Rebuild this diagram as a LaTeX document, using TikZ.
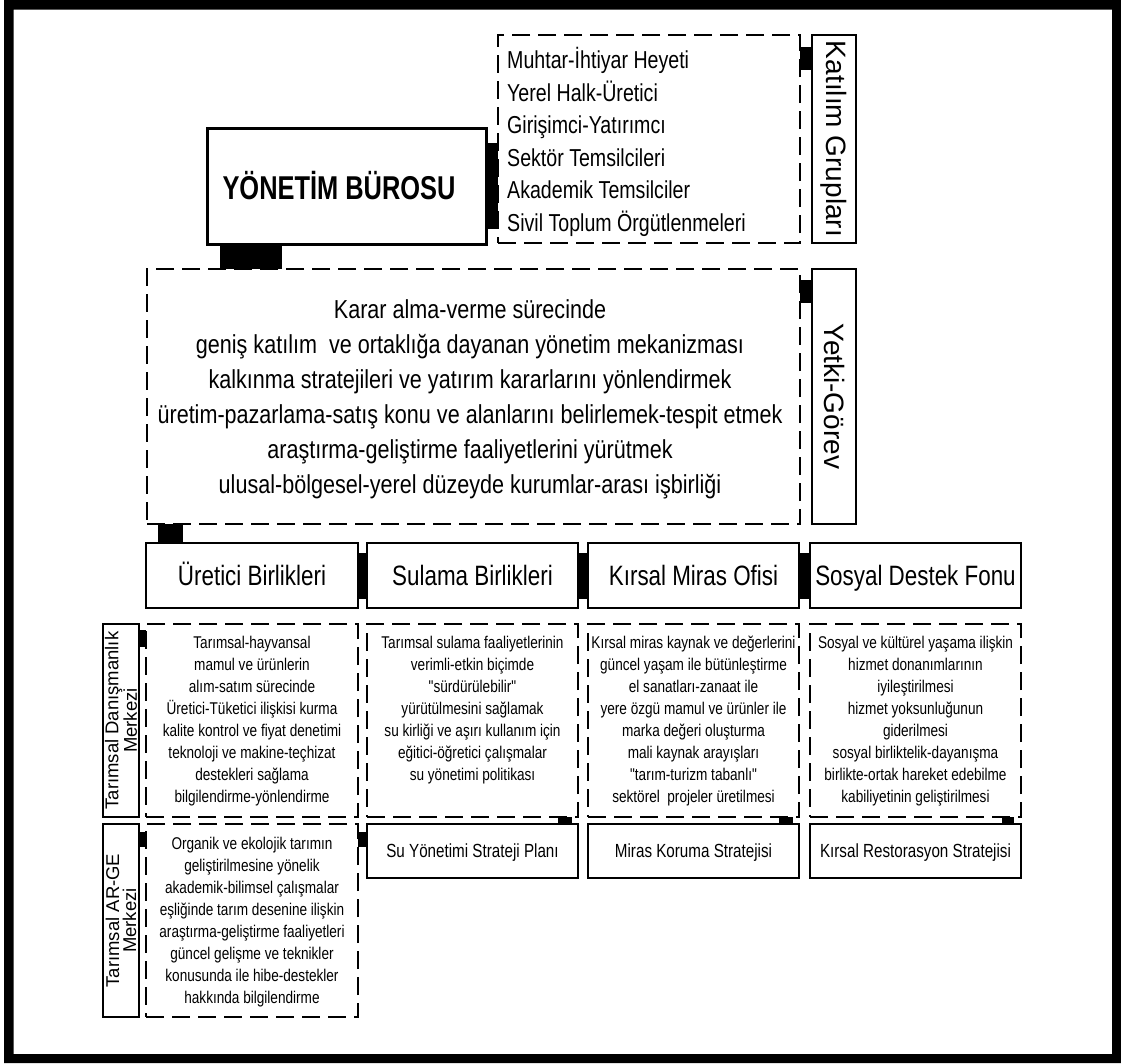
\documentclass[tikz,border=0pt]{standalone}
\usepackage{fontspec}
\setmainfont{Liberation Sans}
\newfontfamily\nar{Liberation Sans}[FakeStretch=0.8]
\newfontfamily\cenf{Liberation Sans}[FakeStretch=0.83]
\newfontfamily\bnar{Liberation Sans}[FakeStretch=0.77]
\newcommand\myfs[2]{\fontsize{#1}{#2}\selectfont}
\begin{document}
\begin{tikzpicture}[x=1pt,y=-1pt,
  box/.style={draw=black, line width=1.6pt, inner sep=0pt, outer sep=0pt, anchor=north west},
  hbox/.style={box, line width=2.6pt},
  dbox/.style={box, line width=2pt, dash pattern=on 18pt off 8pt},
  cn/.style={draw=black, line width=#1},
  small/.style={font=\nar\myfs{17}{22}, align=center, inner sep=0pt, anchor=north},
  head/.style={font=\nar\myfs{28}{28}, inner sep=0pt, anchor=base},
  strat/.style={font=\nar\myfs{19}{19}, inner sep=0pt, anchor=base},
  rot/.style={font=\myfs{28}{28}, rotate=-90, inner sep=0pt},
  lrot/.style={font=\myfs{18.5}{17}, rotate=90, align=center, inner sep=0pt}
]
\useasboundingbox (0,0) rectangle (1121,1063);
\fill[black,even odd rule] (4,0) rectangle (1121,1063) (13.5,9.5) rectangle (1112,1054);

% top part
\node[box, line width=3pt, minimum width=279pt, minimum height=116pt] (yb) at (207,128) {};
\node[font=\bnar\bfseries\myfs{33}{33}, inner sep=0pt, anchor=base] (ybt) at (339,199.3) {YÖNETİM BÜROSU};

\node[dbox, minimum width=302pt, minimum height=208pt] (lst) at (498,35) {};
\foreach \t [count=\i] in {Muhtar-İhtiyar Heyeti, Yerel Halk-Üretici, Girişimci-Yatırımcı, Sektör Temsilcileri, Akademik Temsilciler, Sivil Toplum Örgütlenmeleri}
  \node[anchor=base west, font=\nar\myfs{24.5}{24.5}, inner sep=0pt] (it\i) at (507, 36.3+32.5*\i) {\t};

\node[box, minimum width=44pt, minimum height=208pt] (kat) at (812,35) {};
\node[rot] (katt) at (kat.center) {Katılım Grupları};

% central
\node[dbox, minimum width=653pt, minimum height=255pt] (cen) at (147,269) {};
\node[font=\cenf\myfs{26}{35}, align=center, inner sep=0pt, anchor=north] (cent) at (470,299.5)
 {Karar alma-verme sürecinde\\
  geniş katılım\ \ ve ortaklığa dayanan yönetim mekanizması\\
  kalkınma stratejileri ve yatırım kararlarını yönlendirmek\\
  üretim-pazarlama-satış konu ve alanlarını belirlemek-tespit etmek\\
  araştırma-geliştirme faaliyetlerini yürütmek\\
  ulusal-bölgesel-yerel düzeyde kurumlar-arası işbirliği};

\node[box, minimum width=44pt, minimum height=255pt] (yet) at (812,269) {};
\node[rot] (yett) at (yet.center) {Yetki-Görev};

% row headers
\node[hbox, minimum width=212pt, minimum height=65pt] (ur) at (146,543) {};
\node[head] at (252,585.5) {Üretici Birlikleri};
\node[hbox, minimum width=211pt, minimum height=65pt] (su) at (367,543) {};
\node[head] at (472.5,585.5) {Sulama Birlikleri};
\node[hbox, minimum width=211pt, minimum height=65pt] (kr) at (588,543) {};
\node[head] at (693.5,585.5) {Kırsal Miras Ofisi};
\node[hbox, minimum width=211pt, minimum height=65pt] (so) at (810,543) {};
\node[head] at (915.5,585.5) {Sosyal Destek Fonu};

% dashed description boxes
\node[dbox, minimum width=212pt, minimum height=193pt] (d1) at (146,624) {};
\node[small] (d1t) at (252,636.2) {Tarımsal-hayvansal\\mamul ve ürünlerin\\alım-satım sürecinde\\Üretici-Tüketici ilişkisi kurma\\kalite kontrol ve fiyat denetimi\\teknoloji ve makine-teçhizat\\destekleri sağlama\\bilgilendirme-yönlendirme};
\node[dbox, minimum width=211pt, minimum height=193pt] (d2) at (367,624) {};
\node[small] (d2t) at (472.5,636.2) {Tarımsal sulama faaliyetlerinin\\verimli-etkin biçimde\\"sürdürülebilir"\\yürütülmesini sağlamak\\su kirliği ve aşırı kullanım için\\eğitici-öğretici çalışmalar\\su yönetimi politikası};
\node[dbox, minimum width=211pt, minimum height=193pt] (d3) at (588,624) {};
\node[small] (d3t) at (693.5,636.2) {Kırsal miras kaynak ve değerlerini\\güncel yaşam ile bütünleştirme\\el sanatları-zanaat ile\\yere özgü mamul ve ürünler ile\\marka değeri oluşturma\\mali kaynak arayışları\\"tarım-turizm tabanlı"\\sektörel\ \ projeler üretilmesi};
\node[dbox, minimum width=211pt, minimum height=193pt] (d4) at (810,624) {};
\node[small] (d4t) at (915.5,636.2) {Sosyal ve kültürel yaşama ilişkin\\hizmet donanımlarının\\iyileştirilmesi\\hizmet yoksunluğunun\\giderilmesi\\sosyal birliktelik-dayanışma\\birlikte-ortak hareket edebilme\\kabiliyetinin geliştirilmesi};

\node[dbox, minimum width=212pt, minimum height=193pt] (d5) at (146,824) {};
\node[small] (d5t) at (252,836.7) {Organik ve ekolojik tarımın\\geliştirilmesine yönelik\\akademik-bilimsel çalışmalar\\eşliğinde tarım desenine ilişkin\\araştırma-geliştirme faaliyetleri\\güncel gelişme ve teknikler\\konusunda ile hibe-destekler\\hakkında bilgilendirme};

% left labels
\node[box, minimum width=36pt, minimum height=193pt] (l1) at (103,624) {};
\node[lrot] (l1t) at (l1.center) {Tarımsal Danışmanlık\\Merkezi};
\node[box, minimum width=36pt, minimum height=193pt] (l2) at (103,824) {};
\node[lrot] (l2t) at (l2.center) {Tarımsal AR-GE\\Merkezi};

% strategy boxes
\node[box, minimum width=211pt, minimum height=54pt] (s2) at (367,824) {};
\node[strat] at (472.5,857.8) {Su Yönetimi Strateji Planı};
\node[box, minimum width=211pt, minimum height=54pt] (s3) at (588,824) {};
\node[strat] at (693.5,857.8) {Miras Koruma Stratejisi};
\node[box, minimum width=211pt, minimum height=54pt] (s4) at (810,824) {};
\node[strat] at (915.5,857.8) {Kırsal Restorasyon Stratejisi};

% connectors (black bars)
\draw[cn=86pt] (yb.east) -- (yb.east -| lst.west);
\coordinate (c1) at ([yshift=-23.5pt]lst.north east);
\draw[cn=23pt] (c1) -- (c1 -| kat.west);
\coordinate (c2) at ([xshift=44pt]yb.south west);
\draw[cn=62pt] (c2) -- (c2 |- cen.north);
\coordinate (c3) at ([yshift=-22.5pt]cen.north east);
\draw[cn=23pt] (c3) -- (c3 -| yet.west);
\coordinate (c4) at ([xshift=23.5pt]cen.south west);
\draw[cn=25pt] (c4) -- (c4 |- ur.north);
\draw[cn=46pt] (ur.east) -- (su.west);
\draw[cn=46pt] (su.east) -- (kr.west);
\draw[cn=46pt] (kr.east) -- (so.west);
\coordinate (c5) at ([yshift=-14.5pt]l1.north east);
\draw[cn=17pt] (c5) -- (c5 -| d1.west);
\coordinate (c6) at ([yshift=-15.5pt]l2.north east);
\draw[cn=15pt] (c6) -- (c6 -| d5.west);
\coordinate (c7) at ([yshift=-15.5pt]d5.north east);
\draw[cn=15pt] (c7) -- (c7 -| s2.west);
\coordinate (c8) at ([xshift=-13pt]d2.south east);
\draw[cn=14pt] (c8) -- (c8 |- s2.north);
\coordinate (c9) at ([xshift=-13pt]d3.south east);
\draw[cn=14pt] (c9) -- (c9 |- s3.north);
\coordinate (c10) at ([xshift=-13pt]d4.south east);
\draw[cn=12pt] (c10) -- (c10 |- s4.north);
\end{tikzpicture}
\end{document}
